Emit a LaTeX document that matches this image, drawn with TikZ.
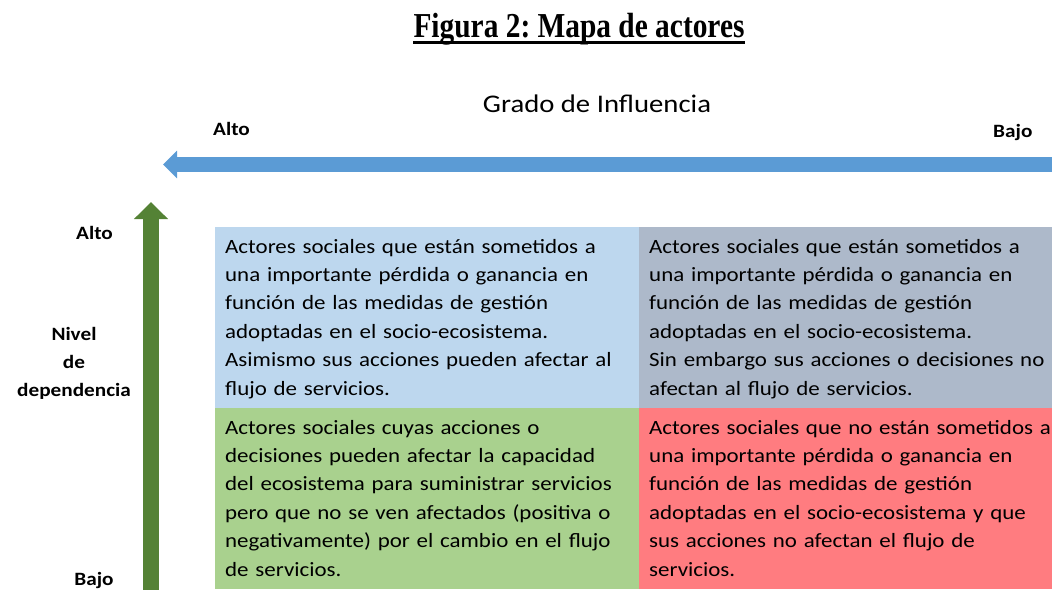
\documentclass[tikz,border=0pt]{standalone}
\usepackage{fontspec}
\setmainfont{Carlito}[FakeStretch=1.13]
\newfontfamily\titlefont{Liberation Serif}[FakeStretch=0.84]
\usetikzlibrary{arrows.meta,positioning}
\frenchspacing
\definecolor{celesteCelda}{HTML}{BDD7EE}
\definecolor{grisCelda}{HTML}{ADB9CA}
\definecolor{verdeCelda}{HTML}{A9D18E}
\definecolor{rojoCelda}{HTML}{FF7C80}
\definecolor{azulFlecha}{HTML}{5B9BD5}
\definecolor{verdeFlecha}{HTML}{548235}
\newcommand{\Celda}[4][]{\node[celda, #1] (#2) at (#3) {}; \node[texto] (#2txt) at ([xshift=10pt, yshift=-26pt]#2.north west) {#4};}

\begin{document}
\begin{tikzpicture}[x=1pt, y=-1pt,
  celda/.style={anchor=north west, inner sep=0pt, minimum height=181pt},
  texto/.style={anchor=base west, inner sep=0pt, text width=500pt, align=left, font=\fontsize{20.3}{28.4}\selectfont},
  etiqueta/.style={inner sep=0pt, font=\bfseries\fontsize{18.8}{28}\selectfont}]
\useasboundingbox (0,0) rectangle (1052,589);

% titulo
\node[inner sep=0pt, anchor=base, font=\titlefont\bfseries\fontsize{35}{40}\selectfont] (titulo) at (579,37) {Figura 2: Mapa de actores};
\draw[line width=2.8pt] ([yshift=-5.5pt]titulo.base west) -- ([yshift=-5.5pt]titulo.base east);

% eje horizontal
\node[inner sep=0pt, anchor=base, font=\fontsize{25.4}{30}\selectfont] (grado) at (597,112) {Grado de Influencia};
\node[etiqueta, anchor=base west] (gradoAlto) at (213,135) {Alto};
\node[etiqueta, anchor=base west] (gradoBajo) at (993,137) {Bajo};
\coordinate (gradoIni) at (1070,164.5);
\coordinate (gradoFin) at (163,164.5);
\draw[line width=15pt, azulFlecha, -{Triangle[length=14pt, width=27pt]}] (gradoIni) -- (gradoFin);

% eje vertical
\node[etiqueta, anchor=base] (nivelAlto) at (94.5,239) {Alto};
\node[etiqueta, anchor=base] (nivelBajo) at (94,585) {Bajo};
\node[etiqueta, anchor=base, text width=140pt, align=center] (nivel) at (74,340) {Nivel\\de\\dependencia};
\coordinate (nivelIni) at (151,610);
\coordinate (nivelFin) at (151,202);
\draw[line width=16pt, verdeFlecha, -{Triangle[length=17pt, width=33pt]}] (nivelIni) -- (nivelFin);

% cuadrantes
\Celda[fill=celesteCelda, minimum width=424pt]{altoAlto}{215,227}{Actores sociales que están sometidos a\\
una importante pérdida o ganancia en\\
función de las medidas de gestión\\
adoptadas en el socio-ecosistema.\\
Asimismo sus acciones pueden afectar al\\
flujo de servicios.}
\Celda[fill=grisCelda, minimum width=413pt]{altoBajo}{639,227}{Actores sociales que están sometidos a\\
una importante pérdida o ganancia en\\
función de las medidas de gestión\\
adoptadas en el socio-ecosistema.\\
Sin embargo sus acciones o decisiones no\\
afectan al flujo de servicios.}
\Celda[fill=verdeCelda, minimum width=424pt]{bajoAlto}{215,408}{Actores sociales cuyas acciones o\\
decisiones pueden afectar la capacidad\\
del ecosistema para suministrar servicios\\
pero que no se ven afectados (positiva o\\
negativamente) por el cambio en el flujo\\
de servicios.}
\Celda[fill=rojoCelda, minimum width=413pt]{bajoBajo}{639,408}{Actores sociales que no están sometidos a\\
una importante pérdida o ganancia en\\
función de las medidas de gestión\\
adoptadas en el socio-ecosistema y que\\
sus acciones no afectan el flujo de\\
servicios.}

\end{tikzpicture}
\end{document}
